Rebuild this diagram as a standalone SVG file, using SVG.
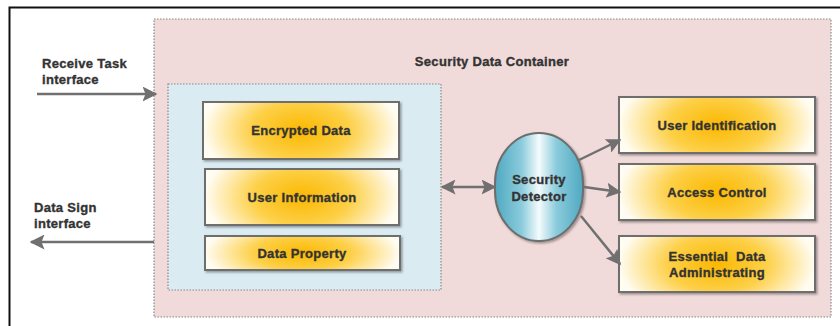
<svg xmlns="http://www.w3.org/2000/svg" width="840" height="326" viewBox="0 0 840 326">
<defs>
<radialGradient id="gold" cx="0.5" cy="0.5" r="0.5" gradientTransform="translate(0.5 0.5) scale(1 2) translate(-0.5 -0.5)">
<stop offset="0" stop-color="#FBB800"/>
<stop offset="0.5" stop-color="#FDD048"/>
<stop offset="1" stop-color="#FFFCF2"/>
</radialGradient>
<linearGradient id="blue" x1="0" y1="0" x2="1" y2="0">
<stop offset="0" stop-color="#4FA9C1"/>
<stop offset="0.3" stop-color="#8ACBDB"/>
<stop offset="0.5" stop-color="#F4FBFD"/>
<stop offset="0.7" stop-color="#8ACBDB"/>
<stop offset="1" stop-color="#4FA9C1"/>
</linearGradient>
<filter id="sh" x="-10%" y="-10%" width="130%" height="140%">
<feDropShadow dx="1.5" dy="1.5" stdDeviation="1" flood-color="#000" flood-opacity="0.35"/>
</filter>
<marker id="ah" viewBox="0 0 10 10" refX="9" refY="5" markerWidth="6" markerHeight="6" orient="auto-start-reverse" markerUnits="strokeWidth">
<path d="M0,0 L10,5 L0,10 L2,5 Z" fill="#707070"/>
</marker>
</defs>
<style>
.t{font-family:"Liberation Sans",Arial,sans-serif;font-weight:bold;font-size:13px;fill:#333;stroke:#333;stroke-width:0.35px;letter-spacing:0.3px}
.box{fill:url(#gold);stroke:#6e6e6e;stroke-width:2;filter:url(#sh)}
.cn{stroke:#707070;stroke-width:2.5;fill:none}
</style>
<rect x="0" y="0" width="840" height="326" fill="#fff"/>
<path d="M9.5,326 L9.5,7.5 L840,7.5" fill="none" stroke="#111" stroke-width="2"/>
<g id="container">
<rect x="154" y="19" width="677" height="298" fill="#F1DADA" stroke="#888" stroke-width="1.2" stroke-dasharray="1.5 1.5"/>
<text class="t" x="492" y="66" text-anchor="middle">Security Data Container</text>
</g>
<g id="data-group">
<rect x="168" y="84" width="273" height="206" fill="#DAECF2" stroke="#888" stroke-width="1.2" stroke-dasharray="1.5 1.5"/>
</g>
<g id="encrypted-data">
<rect class="box" x="203" y="102" width="196" height="57"/>
<text class="t" x="301" y="135" text-anchor="middle">Encrypted Data</text>
</g>
<g id="user-information">
<rect class="box" x="205" y="169" width="194" height="56"/>
<text class="t" x="302" y="202" text-anchor="middle">User Information</text>
</g>
<g id="data-property">
<rect class="box" x="205" y="236" width="195" height="34"/>
<text class="t" x="302" y="258" text-anchor="middle">Data Property</text>
</g>
<g id="security-detector">
<rect x="495" y="133" width="88" height="108" rx="44" ry="50" fill="url(#blue)" stroke="#6e6e6e" stroke-width="2" filter="url(#sh)"/>
<text class="t" x="539" y="184" text-anchor="middle">Security</text>
<text class="t" x="539" y="201" text-anchor="middle">Detector</text>
</g>
<g id="user-identification">
<rect class="box" x="619" y="97" width="196" height="56"/>
<text class="t" x="717" y="130" text-anchor="middle">User Identification</text>
</g>
<g id="access-control">
<rect class="box" x="619" y="164" width="196" height="56"/>
<text class="t" x="717" y="197" text-anchor="middle">Access Control</text>
</g>
<g id="essential-data">
<rect class="box" x="619" y="236" width="196" height="56"/>
<text class="t" x="717" y="261" text-anchor="middle" xml:space="preserve">Essential  Data</text>
<text class="t" x="717" y="277" text-anchor="middle">Administrating</text>
</g>
<g id="labels">
<text class="t" x="42" y="68">Receive Task</text>
<text class="t" x="42" y="84">interface</text>
<text class="t" x="34" y="212">Data Sign</text>
<text class="t" x="34" y="228">interface</text>
</g>
<g id="connectors">
<line class="cn" x1="37" y1="94" x2="156" y2="94" marker-end="url(#ah)"/>
<line class="cn" x1="154" y1="242" x2="31" y2="242" marker-end="url(#ah)"/>
<line class="cn" x1="442" y1="187" x2="495" y2="187" marker-start="url(#ah)" marker-end="url(#ah)"/>
<line class="cn" x1="579" y1="160" x2="620" y2="140" marker-end="url(#ah)"/>
<line class="cn" x1="584" y1="187" x2="620" y2="192" marker-end="url(#ah)"/>
<line class="cn" x1="581" y1="216" x2="620" y2="264" marker-end="url(#ah)"/>
</g>
</svg>
